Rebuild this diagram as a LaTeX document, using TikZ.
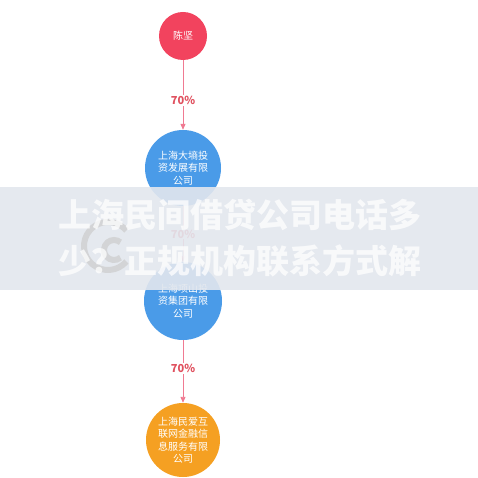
\documentclass[tikz,border=0pt]{standalone}
\usepackage{fontspec}
\newfontfamily\cjk{Noto Sans CJK SC}
\usetikzlibrary{arrows.meta}
\definecolor{holderred}{HTML}{F2435E}
\definecolor{firmblue}{HTML}{4A9BE8}
\definecolor{firmorange}{HTML}{F5A022}
\definecolor{linkpink}{HTML}{F07A92}
\definecolor{sharered}{HTML}{E0505E}
\definecolor{bandgray}{HTML}{E3E7EE}
\newcommand{\midX}{183}
\newcommand{\lowW}{478}

\begin{document}
\begin{tikzpicture}[x=1pt,y=-1pt,
    firm/.style={circle, draw=none, text=white, font=\cjk\fontsize{10}{12.5}\selectfont, align=center, inner sep=0pt},
    link/.style={draw=linkpink, line width=0.9pt, -{Triangle[length=6pt,width=5pt]}},
    share/.style={fill=white, text=sharered, font=\cjk\bfseries\fontsize{11}{12}\selectfont, inner sep=1pt}]

        \useasboundingbox (0,0) rectangle (\lowW,\lowW);
        \fill[white] (0,0) rectangle (\lowW,\lowW);

        % Draw the holder and the companies
        \node[firm, fill=holderred, minimum size=48pt] (chen) at (\midX,36) {陈坚};
        \node[firm, fill=firmblue, minimum size=76pt] (dayong) at (\midX,168) {上海大墒投\\资发展有限\\公司};
        \node[firm, fill=firmblue, minimum size=78pt] (xiangshan) at (\midX,301) {上海项山投\\资集团有限\\公司};
        \node[firm, fill=firmorange, minimum size=74pt] (minai) at (\midX,440) {上海民爱互\\联网金融信\\息服务有限\\公司};

        % Lines from node to node with the shares
        \draw[link] (chen) -- (dayong) node[share, pos=0.58] {70\%};
        \draw[link] (dayong) -- (xiangshan) node[share, pos=0.5] {70\%};
        \draw[link] (xiangshan) -- (minai) node[share, pos=0.45] {70\%};

        % Watermark band over the picture
        \fill[bandgray, opacity=0.9] (0,187) rectangle (\lowW,290);
        \begin{scope}[draw=gray!40, opacity=0.7, line width=6pt]
            \draw ([shift={(40:24)}]108,246) arc[start angle=40, end angle=320, radius=24];
            \draw ([shift={(50:10)}]114,250) arc[start angle=50, end angle=310, radius=10];
        \end{scope}
        \node[text=white, opacity=0.75, align=center, font=\cjk\bfseries\fontsize{33}{46}\selectfont, inner sep=0pt] (mark) at (240,238) {上海民间借贷公司电话多\\少？正规机构联系方式解};
\end{tikzpicture}
\end{document}
